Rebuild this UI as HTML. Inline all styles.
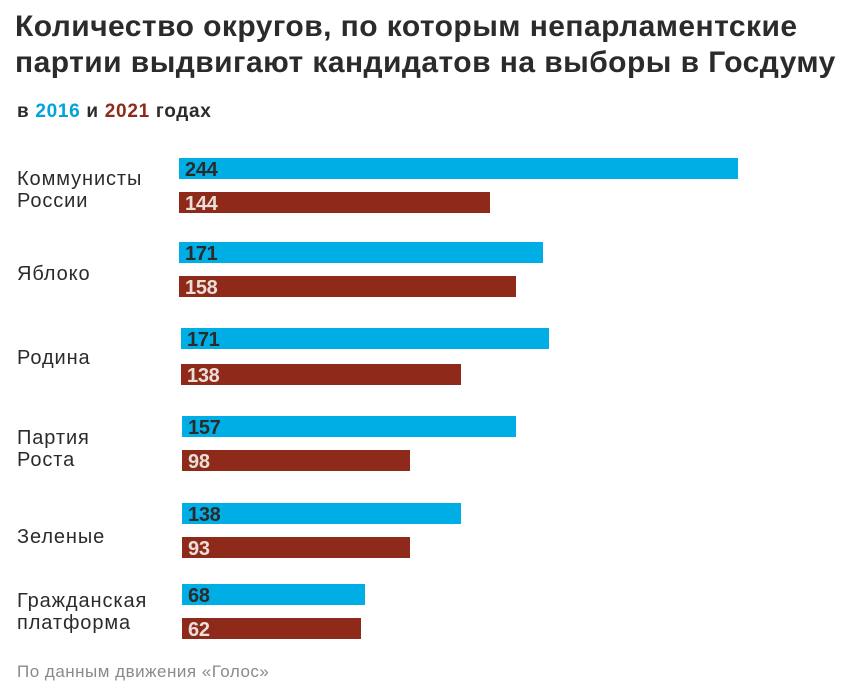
<!DOCTYPE html>
<html><head><meta charset="utf-8"><style>
body{margin:0;width:860px;height:690px;background:#fff;font-family:"Liberation Sans",sans-serif;position:relative;overflow:hidden}
.t{position:absolute;left:15px;font-weight:bold;font-size:30px;color:#2b2b2b;white-space:nowrap;letter-spacing:0.45px}
.s{position:absolute;left:17px;top:101px;font-size:19px;color:#2b2b2b;letter-spacing:0.7px;font-weight:600}
.l{position:absolute;left:17px;font-size:20px;color:#2b2b2b;line-height:22px;letter-spacing:0.9px}
.b{position:absolute;height:21px;font-weight:bold;font-size:20px;line-height:24px;padding-left:6px;box-sizing:border-box;letter-spacing:-0.3px}
.bl{background:#00aee6;color:#2b2b2b}
.rd{background:#8f2a1a;color:#eaded8}
.f{position:absolute;left:17px;top:662px;font-size:17px;color:#8a8a8a;letter-spacing:0.5px}
</style></head><body>
<div class="t" style="top:10px">Количество округов, по которым непарламентские</div>
<div class="t" style="top:46px">партии выдвигают кандидатов на выборы в Госдуму</div>
<div class="s">в <span style="color:#00a3dc">2016</span> и <span style="color:#8f2a1a">2021</span> годах</div>
<div class="l" style="top:168px">Коммунисты<br>России</div>
<div class="l" style="top:263px">Яблоко</div>
<div class="l" style="top:347px">Родина</div>
<div class="l" style="top:427px">Партия<br>Роста</div>
<div class="l" style="top:526px">Зеленые</div>
<div class="l" style="top:590px">Гражданская<br>платформа</div>
<div class="b bl" style="left:179px;top:158px;width:559px">244</div>
<div class="b rd" style="left:179px;top:192px;width:311px">144</div>
<div class="b bl" style="left:179px;top:242px;width:364px">171</div>
<div class="b rd" style="left:179px;top:276px;width:337px">158</div>
<div class="b bl" style="left:181px;top:328px;width:368px">171</div>
<div class="b rd" style="left:181px;top:364px;width:280px">138</div>
<div class="b bl" style="left:182px;top:416px;width:334px">157</div>
<div class="b rd" style="left:182px;top:450px;width:228px">98</div>
<div class="b bl" style="left:182px;top:503px;width:279px">138</div>
<div class="b rd" style="left:182px;top:537px;width:228px">93</div>
<div class="b bl" style="left:182px;top:584px;width:183px">68</div>
<div class="b rd" style="left:182px;top:618px;width:179px">62</div>
<div class="f">По данным движения «Голос»</div>
</body></html>
